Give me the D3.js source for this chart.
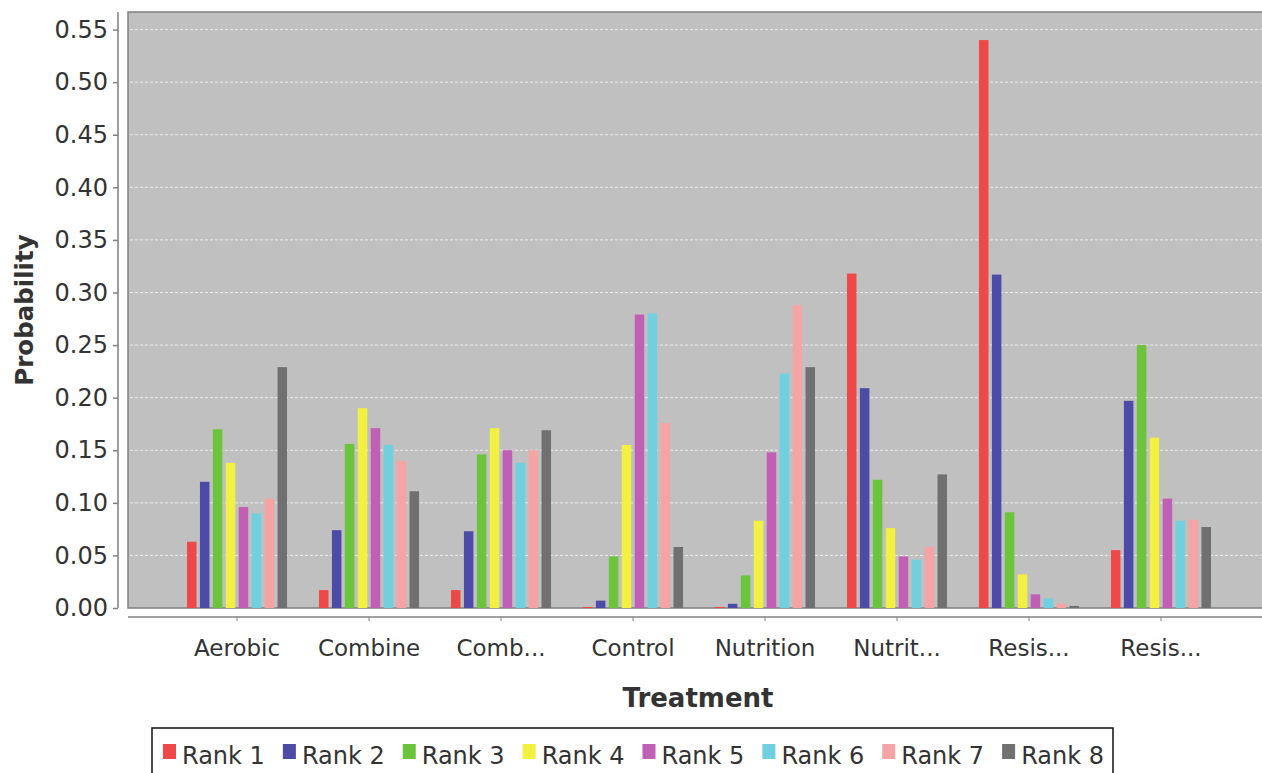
<!DOCTYPE html>
<html>
<head>
<meta charset="utf-8">
<script src="https://cdn.jsdelivr.net/npm/d3@7"></script>
<style>
  html, body { margin: 0; padding: 0; background: #ffffff; }
  svg { display: block; }
  text { font-family: "DejaVu Sans", Verdana, sans-serif; fill: #333333; }
</style>
</head>
<body>
<svg id="chart" width="1262" height="773"></svg>
<script>
// ---- data ----
const categories = ["Aerobic", "Combine", "Comb...", "Control", "Nutrition", "Nutrit...", "Resis...", "Resis..."];
const categoryKeys = ["Aerobic", "Combine", "Comb2", "Control", "Nutrition", "Nutrit2", "Resis1", "Resis2"];
const ranks = ["Rank 1", "Rank 2", "Rank 3", "Rank 4", "Rank 5", "Rank 6", "Rank 7", "Rank 8"];
const rankColors = ["#ee4848", "#4c4ca8", "#6cc43c", "#f2f040", "#c060b4", "#70d0e0", "#f4a4a4", "#707070"];

// values per rank, ordered by categoryKeys
const rank1 = [0.063, 0.017, 0.017, 0.001, 0.001, 0.318, 0.540, 0.055];
const rank2 = [0.120, 0.074, 0.073, 0.007, 0.004, 0.209, 0.317, 0.197];
const rank3 = [0.170, 0.156, 0.146, 0.049, 0.031, 0.122, 0.091, 0.250];
const rank4 = [0.138, 0.190, 0.171, 0.155, 0.083, 0.076, 0.032, 0.162];
const rank5 = [0.096, 0.171, 0.150, 0.279, 0.148, 0.049, 0.013, 0.104];
const rank6 = [0.090, 0.155, 0.138, 0.280, 0.223, 0.046, 0.009, 0.083];
const rank7 = [0.104, 0.140, 0.150, 0.176, 0.288, 0.058, 0.004, 0.084];
const rank8 = [0.229, 0.111, 0.169, 0.058, 0.229, 0.127, 0.002, 0.077];
const seriesValues = [rank1, rank2, rank3, rank4, rank5, rank6, rank7, rank8];

const yTicks = [0.00, 0.05, 0.10, 0.15, 0.20, 0.25, 0.30, 0.35, 0.40, 0.45, 0.50, 0.55];
const yMax = 0.5667;
const xTitle = "Treatment";
const yTitle = "Probability";

// ---- layout ----
const svg = d3.select("#chart");
const plot = { left: 128, right: 1270, top: 12, bottom: 608 };

const x = d3.scaleBand().domain(categoryKeys).range([plot.left, plot.right])
  .paddingInner(0.242).paddingOuter(0.447);
const xr = d3.scaleBand().domain(ranks).range([0, x.bandwidth()]).paddingInner(0.265);
const y = d3.scaleLinear().domain([0, yMax]).range([plot.bottom, plot.top]);
const color = d3.scaleOrdinal().domain(ranks).range(rankColors);

// plot background
svg.append("rect")
  .attr("x", plot.left).attr("y", plot.top)
  .attr("width", plot.right - plot.left).attr("height", plot.bottom - plot.top)
  .attr("fill", "#c0c0c0").attr("stroke", "#808080").attr("stroke-width", 1.5);

// gridlines
svg.append("g").selectAll("line").data(yTicks.filter(d => d > 0)).join("line")
  .attr("x1", plot.left + 2).attr("x2", plot.right)
  .attr("y1", d => y(d)).attr("y2", d => y(d))
  .attr("stroke", "#ececec").attr("stroke-width", 1).attr("stroke-dasharray", "3,2");

// bars
const rows = [];
seriesValues.forEach((vals, ri) => {
  vals.forEach((v, ci) => rows.push({ cat: categoryKeys[ci], rank: ranks[ri], value: v }));
});
svg.append("g").selectAll("rect").data(rows).join("rect")
  .attr("x", d => x(d.cat) + xr(d.rank))
  .attr("width", xr.bandwidth())
  .attr("y", d => y(d.value))
  .attr("height", d => plot.bottom - y(d.value))
  .attr("fill", d => color(d.rank));

// y axis
const yAxis = svg.append("g").attr("transform", `translate(118,0)`)
  .call(d3.axisLeft(y).tickValues(yTicks).tickFormat(d3.format(".2f")).tickSize(5).tickPadding(5));
yAxis.select(".domain").attr("stroke", "#808080").attr("stroke-width", 1.5)
  .attr("d", `M0,${plot.top}V${plot.bottom}`);
yAxis.selectAll(".tick line").attr("stroke", "#808080").attr("stroke-width", 1.5);
yAxis.selectAll(".tick text").style("font-size", "24px").attr("fill", "#333");

// x axis
const xAxis = svg.append("g").attr("transform", `translate(0,617)`)
  .call(d3.axisBottom(x).tickFormat((d, i) => categories[i]).tickSize(4).tickPadding(19));
xAxis.select(".domain").attr("stroke", "#808080").attr("stroke-width", 1.5)
  .attr("d", `M${plot.left},0H${plot.right}`);
xAxis.selectAll(".tick line").attr("stroke", "#808080").attr("stroke-width", 1);
xAxis.selectAll(".tick text").style("font-size", "23px").attr("fill", "#333");

// axis titles
svg.append("text")
  .attr("transform", `translate(33,${(plot.top + plot.bottom) / 2}) rotate(-90)`)
  .attr("text-anchor", "middle")
  .style("font-size", "24.5px").style("font-weight", "bold")
  .text(yTitle);
svg.append("text")
  .attr("x", 698).attr("y", 707)
  .attr("text-anchor", "middle")
  .style("font-size", "26px").style("font-weight", "bold")
  .text(xTitle);

// legend
const legend = svg.append("g");
let lx = 163;
ranks.forEach((r, i) => {
  const g = legend.append("g");
  g.append("rect").attr("x", lx).attr("y", 744).attr("width", 13).attr("height", 15).attr("fill", color(r));
  const t = g.append("text").attr("x", lx + 19).attr("y", 764).style("font-size", "24px").attr("fill", "#222").text(r);
  const w = t.node().getComputedTextLength();
  lx += 19 + w + 18;
});
legend.insert("rect", ":first-child")
  .attr("x", 152).attr("y", 728).attr("width", lx - 152 - 9).attr("height", 70)
  .attr("fill", "#ffffff").attr("stroke", "#111").attr("stroke-width", 1.5);
</script>
</body>
</html>
